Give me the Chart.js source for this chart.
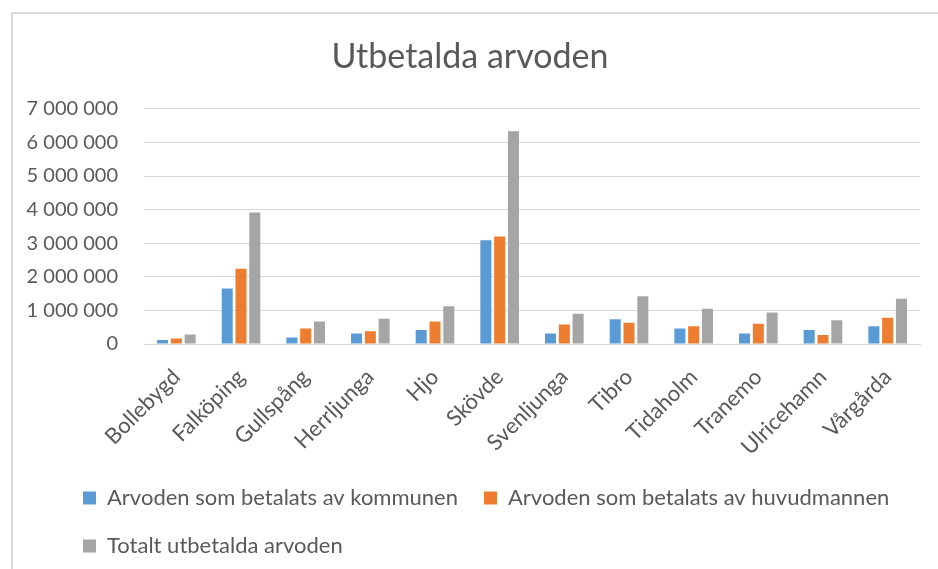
<!DOCTYPE html>
<html>
<head>
<meta charset="utf-8">
<script src="https://cdn.jsdelivr.net/npm/chart.js@4.4.1/dist/chart.umd.min.js"></script>
<style>
  body { margin: 0; background: #fff; overflow: hidden; }
  #frame { position: absolute; left: 11px; top: 12px; width: 1000px; height: 600px;
           border-left: 2px solid #d9d9d9; border-top: 2px solid #d9d9d9; }
  #myChart { position: absolute; left: 0; top: 0; }
</style>
</head>
<body>
<div id="frame"></div>
<canvas id="myChart" width="938" height="569"></canvas>
<script>
var kommuner = ["Bollebygd", "Falköping", "Gullspång", "Herrljunga", "Hjo", "Skövde",
  "Svenljunga", "Tibro", "Tidaholm", "Tranemo", "Ulricehamn", "Vårgårda"];

var seriesNames = ["Arvoden som betalats av kommunen", "Arvoden som betalats av huvudmannen",
  "Totalt utbetalda arvoden"];

var kommunen = [120000, 1650000, 190000, 310000, 420000, 3090000, 310000, 740000, 460000, 310000, 420000, 530000];
var huvudmannen = [160000, 2240000, 460000, 380000, 670000, 3200000, 580000, 630000, 530000, 600000, 270000, 780000];
var totalt = [280000, 3910000, 670000, 750000, 1120000, 6330000, 900000, 1420000, 1050000, 940000, 710000, 1350000];

var yMax = 7000000;
var yStep = 1000000;

var barColors = ["#5B9BD5", "#ED7D31", "#A5A5A5"];
var textColor = "#595959";
var fontName = "Lato";

function formatNumber(v) {
  return String(v).replace(/\B(?=(\d{3})+(?!\d))/g, " ");
}

// legend in the original sits further right than the y axis labels
var legendShift = {
  id: "legendShift",
  afterLayout: function(chart) {
    chart.legend.left += 37;
  }
};

var allSeries = [kommunen, huvudmannen, totalt];
var datasets = [];
for (var i = 0; i < allSeries.length; i++) {
  datasets.push({
    label: seriesNames[i],
    data: allSeries[i],
    backgroundColor: barColors[i],
    borderWidth: 0,
    barPercentage: 0.8,
    categoryPercentage: 0.64
  });
}

new Chart("myChart", {
  type: "bar",
  data: {
    labels: kommuner,
    datasets: datasets
  },
  plugins: [legendShift],
  options: {
    responsive: false,
    animation: false,
    devicePixelRatio: 1,
    layout: {
      padding: { left: 20, right: 18, top: 0, bottom: 2 }
    },
    plugins: {
      title: {
        display: true,
        text: "Utbetalda arvoden",
        color: textColor,
        font: { family: fontName, size: 34, weight: "normal" },
        padding: { top: 37, bottom: 31 }
      },
      legend: {
        position: "bottom",
        align: "start",
        labels: {
          boxWidth: 13,
          boxHeight: 13,
          padding: 26,
          color: textColor,
          font: { family: fontName, size: 22 }
        }
      },
      tooltip: { enabled: false }
    },
    scales: {
      x: {
        grid: { display: false },
        border: { color: "#d9d9d9", width: 1 },
        ticks: {
          color: textColor,
          font: { family: fontName, size: 22 },
          maxRotation: 45,
          minRotation: 45,
          padding: 12
        },
        afterFit: function(scale) { scale.height = 117; }
      },
      y: {
        min: 0,
        max: yMax,
        grid: { color: "#d9d9d9", lineWidth: 1, drawTicks: false },
        border: { display: false },
        ticks: {
          stepSize: yStep,
          color: textColor,
          font: { family: fontName, size: 20 },
          padding: 26,
          callback: function(value) { return formatNumber(value); }
        },
        afterFit: function(scale) { scale.width = 124; }
      }
    }
  }
});
</script>
</body>
</html>
